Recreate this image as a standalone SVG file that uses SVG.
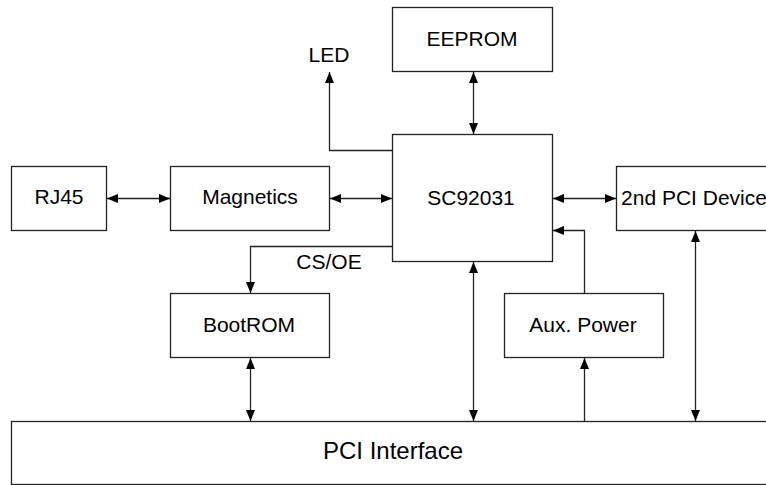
<svg xmlns="http://www.w3.org/2000/svg" width="766" height="485" viewBox="0 0 766 485">
<style>
.box{fill:#fff;stroke:#222;stroke-width:1.3}
.lbl{font-family:"Liberation Sans",Arial,sans-serif;font-size:21px;fill:#000;text-anchor:middle}
.big{font-size:24px}
.wire{fill:none;stroke:#222;stroke-width:1.3}
</style>
<defs>
<marker id="ah" viewBox="0 0 11 9" refX="11" refY="4.5" markerWidth="11" markerHeight="9" orient="auto-start-reverse" markerUnits="userSpaceOnUse">
<path d="M0,0 L11,4.5 L0,9 z" fill="#000"/>
</marker>
</defs>
<rect width="766" height="485" fill="#fff"/>
<g id="pci">
<rect class="box" x="11.5" y="421.5" width="770" height="63"/>
<text class="lbl big" x="393" y="459">PCI Interface</text>
</g>
<g id="rj45">
<rect class="box" x="11.5" y="166.5" width="95" height="64"/>
<text class="lbl" x="59" y="204">RJ45</text>
</g>
<g id="magnetics">
<rect class="box" x="170.5" y="166.5" width="159" height="64"/>
<text class="lbl" x="250" y="204">Magnetics</text>
</g>
<g id="sc92031">
<rect class="box" x="392.5" y="134.5" width="160" height="127"/>
<text class="lbl" x="471" y="205">SC92031</text>
</g>
<g id="eeprom">
<rect class="box" x="392.5" y="7.5" width="160" height="64"/>
<text class="lbl" x="472" y="46">EEPROM</text>
</g>
<g id="pci2">
<rect class="box" x="616.5" y="166.5" width="160" height="64"/>
<text class="lbl" x="694" y="205">2nd PCI Device</text>
</g>
<g id="bootrom">
<rect class="box" x="170.5" y="293.5" width="159" height="64"/>
<text class="lbl" x="249" y="332">BootROM</text>
</g>
<g id="auxpower">
<rect class="box" x="504.5" y="293.5" width="159" height="64"/>
<text class="lbl" x="583" y="332">Aux. Power</text>
</g>
<g id="led">
<text class="lbl" x="329" y="62">LED</text>
</g>
<g id="connectors">
<path class="wire" d="M107,198.5 H170" marker-start="url(#ah)" marker-end="url(#ah)"/>
<path class="wire" d="M330,198.5 H392" marker-start="url(#ah)" marker-end="url(#ah)"/>
<path class="wire" d="M553,198.5 H616" marker-start="url(#ah)" marker-end="url(#ah)"/>
<path class="wire" d="M473.5,72 V134" marker-start="url(#ah)" marker-end="url(#ah)"/>
<path class="wire" d="M392,150.5 H329.5 V72" marker-end="url(#ah)"/>
<path class="wire" d="M392,246.5 H250.5 V293" marker-end="url(#ah)"/>
<text class="lbl" x="329" y="269">CS/OE</text>
<path class="wire" d="M250.5,358 V421" marker-start="url(#ah)" marker-end="url(#ah)"/>
<path class="wire" d="M473.5,262 V421" marker-start="url(#ah)" marker-end="url(#ah)"/>
<path class="wire" d="M584.5,421 V358" marker-end="url(#ah)"/>
<path class="wire" d="M584.5,293 V230.5 H553" marker-end="url(#ah)"/>
<path class="wire" d="M695.5,231 V421" marker-start="url(#ah)" marker-end="url(#ah)"/>
</g>
</svg>
